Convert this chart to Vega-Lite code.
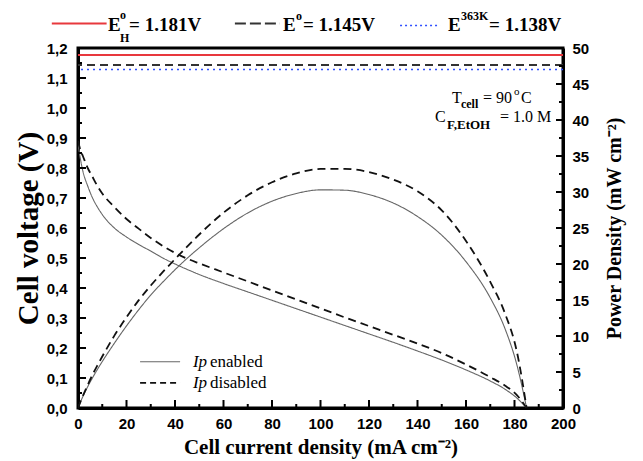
{
  "$schema": "https://vega.github.io/schema/vega-lite/v6.json",
  "width": 485,
  "height": 360,
  "autosize": {"type": "none"},
  "padding": {"left": 78, "top": 48, "right": 80, "bottom": 53},
  "background": "white",
  "config": {"view": {"stroke": "black", "strokeWidth": 3}, "font": "Liberation Sans"},
  "datasets": {
    "curves": [
      {"s": "Ip enabled", "I": 0, "V": 0.88, "P": 0},
      {"s": "Ip enabled", "I": 1, "V": 0.83, "P": 0.83},
      {"s": "Ip enabled", "I": 2, "V": 0.79, "P": 1.58},
      {"s": "Ip enabled", "I": 4, "V": 0.74, "P": 2.96},
      {"s": "Ip enabled", "I": 6, "V": 0.70, "P": 4.2},
      {"s": "Ip enabled", "I": 8, "V": 0.67, "P": 5.36},
      {"s": "Ip enabled", "I": 10, "V": 0.645, "P": 6.45},
      {"s": "Ip enabled", "I": 15, "V": 0.60, "P": 9.0},
      {"s": "Ip enabled", "I": 20, "V": 0.57, "P": 11.4},
      {"s": "Ip enabled", "I": 25, "V": 0.545, "P": 13.63},
      {"s": "Ip enabled", "I": 30, "V": 0.523, "P": 15.69},
      {"s": "Ip enabled", "I": 35, "V": 0.50, "P": 17.5},
      {"s": "Ip enabled", "I": 40, "V": 0.48, "P": 19.2},
      {"s": "Ip enabled", "I": 45, "V": 0.462, "P": 20.79},
      {"s": "Ip enabled", "I": 50, "V": 0.445, "P": 22.25},
      {"s": "Ip enabled", "I": 60, "V": 0.415, "P": 24.9},
      {"s": "Ip enabled", "I": 70, "V": 0.387, "P": 27.09},
      {"s": "Ip enabled", "I": 80, "V": 0.359, "P": 28.72},
      {"s": "Ip enabled", "I": 90, "V": 0.331, "P": 29.79},
      {"s": "Ip enabled", "I": 100, "V": 0.303, "P": 30.3},
      {"s": "Ip enabled", "I": 110, "V": 0.275, "P": 30.25},
      {"s": "Ip enabled", "I": 120, "V": 0.247, "P": 29.64},
      {"s": "Ip enabled", "I": 130, "V": 0.219, "P": 28.47},
      {"s": "Ip enabled", "I": 140, "V": 0.19, "P": 26.6},
      {"s": "Ip enabled", "I": 150, "V": 0.16, "P": 24.0},
      {"s": "Ip enabled", "I": 160, "V": 0.127, "P": 20.32},
      {"s": "Ip enabled", "I": 170, "V": 0.09, "P": 15.3},
      {"s": "Ip enabled", "I": 176, "V": 0.063, "P": 11.09},
      {"s": "Ip enabled", "I": 181, "V": 0.033, "P": 5.97},
      {"s": "Ip enabled", "I": 185, "V": 0, "P": 0},
      {"s": "Ip disabled", "I": 0, "V": 0.89, "P": 0},
      {"s": "Ip disabled", "I": 1, "V": 0.86, "P": 0.86},
      {"s": "Ip disabled", "I": 2, "V": 0.84, "P": 1.68},
      {"s": "Ip disabled", "I": 4, "V": 0.80, "P": 3.2},
      {"s": "Ip disabled", "I": 6, "V": 0.77, "P": 4.62},
      {"s": "Ip disabled", "I": 8, "V": 0.74, "P": 5.92},
      {"s": "Ip disabled", "I": 10, "V": 0.715, "P": 7.15},
      {"s": "Ip disabled", "I": 15, "V": 0.67, "P": 10.05},
      {"s": "Ip disabled", "I": 20, "V": 0.63, "P": 12.6},
      {"s": "Ip disabled", "I": 25, "V": 0.598, "P": 14.95},
      {"s": "Ip disabled", "I": 30, "V": 0.567, "P": 17.01},
      {"s": "Ip disabled", "I": 35, "V": 0.54, "P": 18.9},
      {"s": "Ip disabled", "I": 40, "V": 0.517, "P": 20.68},
      {"s": "Ip disabled", "I": 45, "V": 0.498, "P": 22.41},
      {"s": "Ip disabled", "I": 50, "V": 0.482, "P": 24.1},
      {"s": "Ip disabled", "I": 60, "V": 0.452, "P": 27.12},
      {"s": "Ip disabled", "I": 70, "V": 0.422, "P": 29.54},
      {"s": "Ip disabled", "I": 80, "V": 0.392, "P": 31.36},
      {"s": "Ip disabled", "I": 90, "V": 0.362, "P": 32.58},
      {"s": "Ip disabled", "I": 100, "V": 0.332, "P": 33.2},
      {"s": "Ip disabled", "I": 110, "V": 0.302, "P": 33.22},
      {"s": "Ip disabled", "I": 120, "V": 0.273, "P": 32.76},
      {"s": "Ip disabled", "I": 130, "V": 0.244, "P": 31.72},
      {"s": "Ip disabled", "I": 140, "V": 0.215, "P": 30.1},
      {"s": "Ip disabled", "I": 150, "V": 0.183, "P": 27.45},
      {"s": "Ip disabled", "I": 160, "V": 0.145, "P": 23.2},
      {"s": "Ip disabled", "I": 170, "V": 0.103, "P": 17.51},
      {"s": "Ip disabled", "I": 176, "V": 0.075, "P": 13.2},
      {"s": "Ip disabled", "I": 181, "V": 0.043, "P": 7.78},
      {"s": "Ip disabled", "I": 185, "V": 0, "P": 0}
    ],
    "xMajor": [{"t": 20}, {"t": 40}, {"t": 60}, {"t": 80}, {"t": 100}, {"t": 120}, {"t": 140}, {"t": 160}, {"t": 180}],
    "xMinor": [{"t": 10}, {"t": 30}, {"t": 50}, {"t": 70}, {"t": 90}, {"t": 110}, {"t": 130}, {"t": 150}, {"t": 170}, {"t": 190}],
    "vMajor": [{"t": 0.1}, {"t": 0.2}, {"t": 0.3}, {"t": 0.4}, {"t": 0.5}, {"t": 0.6}, {"t": 0.7}, {"t": 0.8}, {"t": 0.9}, {"t": 1.0}, {"t": 1.1}],
    "vMinor": [{"t": 0.05}, {"t": 0.15}, {"t": 0.25}, {"t": 0.35}, {"t": 0.45}, {"t": 0.55}, {"t": 0.65}, {"t": 0.75}, {"t": 0.85}, {"t": 0.95}, {"t": 1.05}, {"t": 1.15}],
    "pMajor": [{"t": 5}, {"t": 10}, {"t": 15}, {"t": 20}, {"t": 25}, {"t": 30}, {"t": 35}, {"t": 40}, {"t": 45}],
    "pMinor": [{"t": 2.5}, {"t": 7.5}, {"t": 12.5}, {"t": 17.5}, {"t": 22.5}, {"t": 27.5}, {"t": 32.5}, {"t": 37.5}, {"t": 42.5}, {"t": 47.5}]
  },
  "layer": [
    {
      "layer": [
        {
          "data": {"name": "curves"},
          "mark": {"type": "line", "clip": true, "interpolate": "monotone"},
          "encoding": {
            "x": {"field": "I", "type": "quantitative", "scale": {"domain": [0, 200], "nice": false},
              "axis": {"orient": "bottom", "title": "Cell current density (mA cm⁻²)", "values": [0,20,40,60,80,100,120,140,160,180,200],
                "ticks": false, "domainColor": "black", "domainWidth": 3,
                "labelFont": "Liberation Sans", "labelFontWeight": "bold", "labelFontSize": 15, "labelColor": "black", "labelPadding": 8,
                "titleFont": "Liberation Serif", "titleFontSize": 21, "titleFontWeight": "bold", "titleColor": "black", "titlePadding": 5,
                "grid": false, "labelOverlap": false, "labelFlush": false}},
            "y": {"field": "V", "type": "quantitative", "scale": {"domain": [0, 1.2], "nice": false, "zero": false},
              "axis": {"orient": "left", "title": "Cell voltage (V)", "values": [0,0.1,0.2,0.3,0.4,0.5,0.6,0.7,0.8,0.9,1,1.1,1.2],
                "labelExpr": "replace(format(datum.value, '.1f'), '.', ',')",
                "ticks": false, "domainColor": "black", "domainWidth": 3,
                "labelFont": "Liberation Sans", "labelFontWeight": "bold", "labelFontSize": 15, "labelColor": "black", "labelPadding": 11,
                "titleFont": "Liberation Serif", "titleFontSize": 29, "titleFontWeight": "bold", "titleColor": "black", "titlePadding": 3,
                "grid": false, "labelOverlap": false}},
            "color": {"field": "s", "type": "nominal", "scale": {"domain": ["Ip enabled", "Ip disabled"], "range": ["#666666", "#111111"]}, "legend": null},
            "strokeWidth": {"field": "s", "type": "nominal", "scale": {"domain": ["Ip enabled", "Ip disabled"], "range": [1.1, 1.8]}, "legend": null},
            "strokeDash": {"field": "s", "type": "nominal", "scale": {"domain": ["Ip enabled", "Ip disabled"], "range": [[1, 0], [8, 5]]}, "legend": null}
          }
        },
        {
          "data": {"name": "xMajor"},
          "mark": {"type": "tick", "orient": "vertical", "size": 8, "thickness": 2, "color": "black", "yOffset": -4, "opacity": 1},
          "encoding": {"x": {"field": "t", "type": "quantitative", "axis": null}, "y": {"datum": 0, "type": "quantitative", "axis": null}}
        },
        {
          "data": {"name": "xMinor"},
          "mark": {"type": "tick", "orient": "vertical", "size": 4, "thickness": 2, "color": "black", "yOffset": -2, "opacity": 1},
          "encoding": {"x": {"field": "t", "type": "quantitative", "axis": null}, "y": {"datum": 0, "type": "quantitative", "axis": null}}
        },
        {
          "data": {"name": "vMajor"},
          "mark": {"type": "tick", "orient": "horizontal", "size": 8, "thickness": 2, "color": "black", "xOffset": 4, "opacity": 1},
          "encoding": {"y": {"field": "t", "type": "quantitative", "axis": null}, "x": {"datum": 0, "type": "quantitative", "axis": null}}
        },
        {
          "data": {"name": "vMinor"},
          "mark": {"type": "tick", "orient": "horizontal", "size": 4, "thickness": 2, "color": "black", "xOffset": 2, "opacity": 1},
          "encoding": {"y": {"field": "t", "type": "quantitative", "axis": null}, "x": {"datum": 0, "type": "quantitative", "axis": null}}
        },
        {
          "data": {"values": [{}]},
          "layer": [
            {"mark": {"type": "rule", "color": "#e8383d", "strokeWidth": 2}, "encoding": {"y": {"datum": 1.177, "type": "quantitative", "axis": null}}},
            {"mark": {"type": "rule", "color": "#333333", "strokeWidth": 2, "strokeDash": [8, 5]}, "encoding": {"y": {"datum": 1.143, "type": "quantitative", "axis": null}}},
            {"mark": {"type": "rule", "color": "#3050ff", "strokeWidth": 1.5, "strokeDash": [2, 4]}, "encoding": {"y": {"datum": 1.128, "type": "quantitative", "axis": null}}},

            {"mark": {"type": "rule", "color": "#e8383d", "strokeWidth": 2}, "encoding": {"x": {"datum": -10.8, "type": "quantitative", "axis": null}, "x2": {"datum": 11.8}, "y": {"datum": 1.282, "type": "quantitative", "axis": null}}},
            {"mark": {"type": "rule", "color": "#333333", "strokeWidth": 2, "strokeDash": [11, 4]}, "encoding": {"x": {"datum": 64.7, "type": "quantitative", "axis": null}, "x2": {"datum": 83.3}, "y": {"datum": 1.282, "type": "quantitative", "axis": null}}},
            {"mark": {"type": "rule", "color": "#3050ff", "strokeWidth": 1.5, "strokeDash": [2, 3]}, "encoding": {"x": {"datum": 132.8, "type": "quantitative", "axis": null}, "x2": {"datum": 149.3}, "y": {"datum": 1.275, "type": "quantitative", "axis": null}}},

            {"mark": {"type": "text", "text": "E", "font": "Liberation Serif", "fontWeight": "bold", "fontSize": 19, "align": "left", "baseline": "alphabetic", "color": "black"}, "encoding": {"x": {"datum": 12.4, "type": "quantitative", "axis": null}, "y": {"datum": 1.257, "type": "quantitative", "axis": null}}},
            {"mark": {"type": "text", "text": "o", "font": "Liberation Serif", "fontWeight": "bold", "fontSize": 12, "align": "left", "baseline": "alphabetic", "color": "black", "dx": 12, "dy": -12}, "encoding": {"x": {"datum": 12.4, "type": "quantitative", "axis": null}, "y": {"datum": 1.257, "type": "quantitative", "axis": null}}},
            {"mark": {"type": "text", "text": "H", "font": "Liberation Serif", "fontWeight": "bold", "fontSize": 12, "align": "left", "baseline": "alphabetic", "color": "black", "dx": 12, "dy": 11}, "encoding": {"x": {"datum": 12.4, "type": "quantitative", "axis": null}, "y": {"datum": 1.257, "type": "quantitative", "axis": null}}},
            {"mark": {"type": "text", "text": "= 1.181V", "font": "Liberation Serif", "fontWeight": "bold", "fontSize": 19, "align": "left", "baseline": "alphabetic", "color": "black", "dx": 21}, "encoding": {"x": {"datum": 12.4, "type": "quantitative", "axis": null}, "y": {"datum": 1.257, "type": "quantitative", "axis": null}}},

            {"mark": {"type": "text", "text": "E", "font": "Liberation Serif", "fontWeight": "bold", "fontSize": 19, "align": "left", "baseline": "alphabetic", "color": "black"}, "encoding": {"x": {"datum": 84.5, "type": "quantitative", "axis": null}, "y": {"datum": 1.257, "type": "quantitative", "axis": null}}},
            {"mark": {"type": "text", "text": "o", "font": "Liberation Serif", "fontWeight": "bold", "fontSize": 12, "align": "left", "baseline": "alphabetic", "color": "black", "dx": 13, "dy": -11}, "encoding": {"x": {"datum": 84.5, "type": "quantitative", "axis": null}, "y": {"datum": 1.257, "type": "quantitative", "axis": null}}},
            {"mark": {"type": "text", "text": "= 1.145V", "font": "Liberation Serif", "fontWeight": "bold", "fontSize": 19, "align": "left", "baseline": "alphabetic", "color": "black", "dx": 20}, "encoding": {"x": {"datum": 84.5, "type": "quantitative", "axis": null}, "y": {"datum": 1.257, "type": "quantitative", "axis": null}}},

            {"mark": {"type": "text", "text": "E", "font": "Liberation Serif", "fontWeight": "bold", "fontSize": 19, "align": "left", "baseline": "alphabetic", "color": "black"}, "encoding": {"x": {"datum": 152.6, "type": "quantitative", "axis": null}, "y": {"datum": 1.257, "type": "quantitative", "axis": null}}},
            {"mark": {"type": "text", "text": "363K", "font": "Liberation Serif", "fontWeight": "bold", "fontSize": 12, "align": "left", "baseline": "alphabetic", "color": "black", "dx": 13, "dy": -11}, "encoding": {"x": {"datum": 152.6, "type": "quantitative", "axis": null}, "y": {"datum": 1.257, "type": "quantitative", "axis": null}}},
            {"mark": {"type": "text", "text": "= 1.138V", "font": "Liberation Serif", "fontWeight": "bold", "fontSize": 19, "align": "left", "baseline": "alphabetic", "color": "black", "dx": 41}, "encoding": {"x": {"datum": 152.6, "type": "quantitative", "axis": null}, "y": {"datum": 1.257, "type": "quantitative", "axis": null}}},

            {"mark": {"type": "text", "text": "T", "font": "Liberation Serif", "fontSize": 16, "align": "left", "baseline": "alphabetic", "color": "black"}, "encoding": {"x": {"datum": 154.2, "type": "quantitative", "axis": null}, "y": {"datum": 1.0167, "type": "quantitative", "axis": null}}},
            {"mark": {"type": "text", "text": "cell", "font": "Liberation Serif", "fontWeight": "bold", "fontSize": 12, "align": "left", "baseline": "alphabetic", "color": "black", "dx": 9, "dy": 5}, "encoding": {"x": {"datum": 154.2, "type": "quantitative", "axis": null}, "y": {"datum": 1.0167, "type": "quantitative", "axis": null}}},
            {"mark": {"type": "text", "text": "= 90", "font": "Liberation Serif", "fontSize": 16, "align": "left", "baseline": "alphabetic", "color": "black", "dx": 31}, "encoding": {"x": {"datum": 154.2, "type": "quantitative", "axis": null}, "y": {"datum": 1.0167, "type": "quantitative", "axis": null}}},
            {"mark": {"type": "text", "text": "o", "font": "Liberation Serif", "fontSize": 11, "align": "left", "baseline": "alphabetic", "color": "black", "dx": 62, "dy": -8}, "encoding": {"x": {"datum": 154.2, "type": "quantitative", "axis": null}, "y": {"datum": 1.0167, "type": "quantitative", "axis": null}}},
            {"mark": {"type": "text", "text": "C", "font": "Liberation Serif", "fontSize": 16, "align": "left", "baseline": "alphabetic", "color": "black", "dx": 69}, "encoding": {"x": {"datum": 154.2, "type": "quantitative", "axis": null}, "y": {"datum": 1.0167, "type": "quantitative", "axis": null}}},

            {"mark": {"type": "text", "text": "C", "font": "Liberation Serif", "fontSize": 16, "align": "left", "baseline": "alphabetic", "color": "black"}, "encoding": {"x": {"datum": 147.2, "type": "quantitative", "axis": null}, "y": {"datum": 0.955, "type": "quantitative", "axis": null}}},
            {"mark": {"type": "text", "text": "F,EtOH", "font": "Liberation Serif", "fontWeight": "bold", "fontSize": 13, "align": "left", "baseline": "alphabetic", "color": "black", "dx": 12, "dy": 7}, "encoding": {"x": {"datum": 147.2, "type": "quantitative", "axis": null}, "y": {"datum": 0.955, "type": "quantitative", "axis": null}}},
            {"mark": {"type": "text", "text": "= 1.0 M", "font": "Liberation Serif", "fontSize": 16, "align": "left", "baseline": "alphabetic", "color": "black", "dx": 65}, "encoding": {"x": {"datum": 147.2, "type": "quantitative", "axis": null}, "y": {"datum": 0.955, "type": "quantitative", "axis": null}}},

            {"mark": {"type": "rule", "color": "#666666", "strokeWidth": 1.1}, "encoding": {"x": {"datum": 25.6, "type": "quantitative", "axis": null}, "x2": {"datum": 42.1}, "y": {"datum": 0.154, "type": "quantitative", "axis": null}}},
            {"mark": {"type": "rule", "color": "#111111", "strokeWidth": 1.8, "strokeDash": [6, 4]}, "encoding": {"x": {"datum": 25.6, "type": "quantitative", "axis": null}, "x2": {"datum": 42.1}, "y": {"datum": 0.084, "type": "quantitative", "axis": null}}},
            {"mark": {"type": "text", "text": "Ip", "font": "Liberation Serif", "fontStyle": "italic", "fontSize": 17, "align": "left", "baseline": "alphabetic", "color": "black"}, "encoding": {"x": {"datum": 47.4, "type": "quantitative", "axis": null}, "y": {"datum": 0.138, "type": "quantitative", "axis": null}}},
            {"mark": {"type": "text", "text": "enabled", "font": "Liberation Serif", "fontSize": 17, "align": "left", "baseline": "alphabetic", "color": "black", "dx": 17}, "encoding": {"x": {"datum": 47.4, "type": "quantitative", "axis": null}, "y": {"datum": 0.138, "type": "quantitative", "axis": null}}},
            {"mark": {"type": "text", "text": "Ip", "font": "Liberation Serif", "fontStyle": "italic", "fontSize": 17, "align": "left", "baseline": "alphabetic", "color": "black"}, "encoding": {"x": {"datum": 47.4, "type": "quantitative", "axis": null}, "y": {"datum": 0.068, "type": "quantitative", "axis": null}}},
            {"mark": {"type": "text", "text": "disabled", "font": "Liberation Serif", "fontSize": 17, "align": "left", "baseline": "alphabetic", "color": "black", "dx": 17}, "encoding": {"x": {"datum": 47.4, "type": "quantitative", "axis": null}, "y": {"datum": 0.068, "type": "quantitative", "axis": null}}}
          ],
          "resolve": {"axis": {"x": "independent", "y": "independent"}}
        }
      ],
      "resolve": {"axis": {"x": "independent", "y": "independent"}}
    },
    {
      "layer": [
        {
          "data": {"name": "curves"},
          "mark": {"type": "line", "clip": true, "interpolate": "monotone"},
          "encoding": {
            "x": {"field": "I", "type": "quantitative", "axis": null},
            "y": {"field": "P", "type": "quantitative", "scale": {"domain": [0, 50], "nice": false, "zero": false},
              "axis": {"orient": "right", "title": "Power Density (mW cm⁻²)", "values": [0,5,10,15,20,25,30,35,40,45,50],
                "ticks": false, "domainColor": "black", "domainWidth": 3,
                "labelFont": "Liberation Sans", "labelFontWeight": "bold", "labelFontSize": 15, "labelColor": "black", "labelPadding": 9,
                "titleFont": "Liberation Serif", "titleFontSize": 20, "titleFontWeight": "bold", "titleColor": "black", "titlePadding": 16, "titleAngle": 270, "titleBaseline": "top",
                "grid": false, "labelOverlap": false}},
            "color": {"field": "s", "type": "nominal", "legend": null},
            "strokeWidth": {"field": "s", "type": "nominal", "legend": null},
            "strokeDash": {"field": "s", "type": "nominal", "legend": null}
          }
        },
        {
          "data": {"name": "pMajor"},
          "mark": {"type": "tick", "orient": "horizontal", "size": 7, "thickness": 2, "color": "black", "xOffset": -3.5, "opacity": 1},
          "encoding": {"y": {"field": "t", "type": "quantitative", "axis": null}, "x": {"datum": 200, "type": "quantitative", "axis": null}}
        },
        {
          "data": {"name": "pMinor"},
          "mark": {"type": "tick", "orient": "horizontal", "size": 4, "thickness": 2, "color": "black", "xOffset": -2, "opacity": 1},
          "encoding": {"y": {"field": "t", "type": "quantitative", "axis": null}, "x": {"datum": 200, "type": "quantitative", "axis": null}}
        }
      ],
      "resolve": {"axis": {"x": "independent", "y": "independent"}}
    }
  ],
  "resolve": {"scale": {"y": "independent"}, "axis": {"x": "independent", "y": "independent"}}
}
